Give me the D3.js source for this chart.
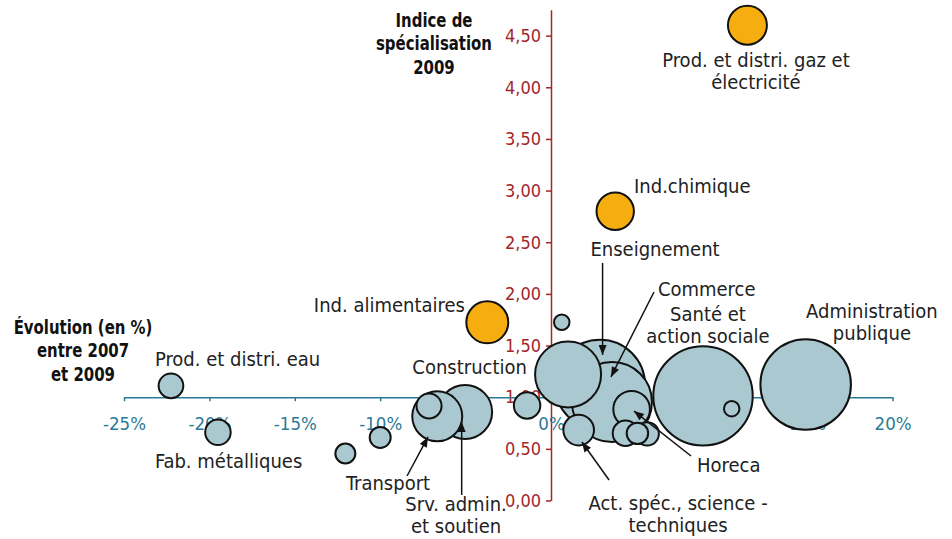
<!DOCTYPE html>
<html>
<head>
<meta charset="utf-8">
<script src="https://cdn.jsdelivr.net/npm/d3@7"></script>
<style>
  body { margin: 0; background: #fff; }
  svg text { font-family: "DejaVu Sans Condensed", "DejaVu Sans", sans-serif; font-stretch: condensed; }
  .titre { font-weight: bold; font-size: 20px; fill: #111; }
  .lbl { font-size: 20px; fill: #222; }
</style>
</head>
<body>
<svg width="952" height="539"></svg>
<script>
// Données : évolution de l'emploi 2007-2009 (%), indice de spécialisation 2009, poids du secteur
var secteurs = ["Prod. et distri. gaz et électricité", "Ind.chimique", "Ind. alimentaires", "",
  "Prod. et distri. eau", "Fab. métalliques", "", "", "Transport", "", "Srv. admin. et soutien",
  "Construction", "", "Enseignement", "Commerce", "Santé et action sociale", "",
  "Administration publique", "Act. spéc., science - techniques", "Horeca", "", "", ""];
var evolution = [11.5, 3.76, -3.73, 0.63, -22.25, -19.5, -12.04, -10.0, -6.66, -7.14, -5.03,
  -1.4, 1.0, 2.87, 3.57, 8.9, 10.58, 14.91, 1.62, 4.72, 4.36, 5.06, 5.63];
var indice = [4.60, 2.80, 1.725, 1.725, 1.11, 0.66, 0.455, 0.61, 0.815, 0.915, 0.857,
  0.92, 1.22, 1.12, 0.953, 1.013, 0.889, 1.123, 0.682, 0.884, 0.651, 0.65, 0.645];
var poids = [15.2, 14.0, 17.6, 2.4, 6.1, 6.5, 4.0, 4.4, 25, 6.25, 29.2,
  7.0, 43.6, 81, 64, 98.8, 2.4, 82, 9.4, 13.4, 6.5, 4.6, 5.5];
var phare = [1, 1, 1, 0, 0, 0, 0, 0, 0, 0, 0, 0, 0, 0, 0, 0, 0, 0, 0, 0, 0, 0, 0];

var xTicks = [-25, -20, -15, -10, -5, 0, 5, 10, 15, 20];
var yTicks = [0, 0.5, 1, 1.5, 2, 2.5, 3, 3.5, 4, 4.5];

// étiquettes (position en unités du graphique)
var annotations = [
  {lines: ["Prod. et distri. gaz et", "électricité"], x: 12.0, y: 4.196, anchor: "middle"},
  {lines: ["Ind.chimique"], x: 4.86, y: 2.977, anchor: "start"},
  {lines: ["Ind. alimentaires"], x: -5.04, y: 1.825, anchor: "end"},
  {lines: ["Prod. et distri. eau"], x: -23.19, y: 1.302, anchor: "start"},
  {lines: ["Fab. métalliques"], x: -23.19, y: 0.315, anchor: "start"},
  {lines: ["Transport"], x: -9.54, y: 0.102, anchor: "middle", arrow: [-8.43, 0.237, -7.20, 0.615]},
  {lines: ["Srv. admin.", "et soutien"], x: -5.56, y: -0.102, anchor: "middle", arrow: [-5.23, 0.053, -5.23, 0.76]},
  {lines: ["Construction"], x: -1.41, y: 1.225, anchor: "end"},
  {lines: ["Enseignement"], x: 6.09, y: 2.367, anchor: "middle", arrow: [3.02, 2.299, 3.02, 1.409]},
  {lines: ["Commerce"], x: 6.26, y: 1.98, anchor: "start", arrow: [6.03, 2.018, 3.51, 1.196]},
  {lines: ["Santé et", "action sociale"], x: 9.19, y: 1.74, anchor: "middle"},
  {lines: ["Administration", "publique"], x: 18.79, y: 1.767, anchor: "middle"},
  {lines: ["Horeca"], x: 8.55, y: 0.276, anchor: "start", arrow: [8.20, 0.431, 4.86, 0.866]},
  {lines: ["Act. spéc., science -", "techniques"], x: 7.44, y: -0.092, anchor: "middle", arrow: [3.40, 0.198, 1.81, 0.566]}
];

var svg = d3.select("svg");

var x = d3.scaleLinear().domain([-25, 20]).range([124, 892.6]);
var y = d3.scaleLinear().domain([0, 4.75]).range([500.5, 9.8]);
var r = d3.scaleSqrt().domain([0, 100]).range([0, 50]);

var rouge = "#a3262b", bleu = "#2b7a95";

// axe vertical
var yAxis = svg.append("g")
    .attr("transform", "translate(" + x(0) + ",0)")
    .call(d3.axisLeft(y).tickValues(yTicks).tickSize(5).tickSizeOuter(0).tickPadding(5)
      .tickFormat(function(d) { return d3.format(".2f")(d).replace(".", ","); }));
yAxis.select(".domain").attr("stroke", rouge).attr("stroke-width", 1.5);
yAxis.selectAll(".tick line").attr("stroke", rouge).attr("stroke-width", 1.5);
yAxis.selectAll("text").attr("fill", rouge).style("font-size", "18px");

// axe horizontal (croise à 1,00)
var xAxis = svg.append("g")
    .attr("transform", "translate(0," + y(1) + ")")
    .call(d3.axisBottom(x).tickValues(xTicks).tickSize(4).tickSizeOuter(0).tickPadding(16)
      .tickFormat(function(d) { return d + "%"; }));
xAxis.select(".domain").attr("stroke", bleu).attr("stroke-width", 1.5);
xAxis.selectAll(".tick line").attr("stroke", bleu).attr("stroke-width", 1.5);
xAxis.selectAll("text").attr("fill", bleu).style("font-size", "18.5px");

// bulles
var data = secteurs.map(function(s, i) {
  return {nom: s, evol: evolution[i], ind: indice[i], poids: poids[i], phare: phare[i]};
});
data.sort(function(a, b) { return b.poids - a.poids; });

svg.append("g").selectAll("circle")
  .data(data)
  .enter()
  .append("circle")
    .attr("cx", function(d) { return x(d.evol); })
    .attr("cy", function(d) { return y(d.ind); })
    .attr("r", function(d) { return r(d.poids); })
    .style("fill", function(d) { return d.phare ? "#f5ad10" : "#aac8d0"; })
    .style("stroke", "#111")
    .style("stroke-width", 2);

// flèches
svg.append("defs").append("marker")
    .attr("id", "fleche")
    .attr("markerUnits", "userSpaceOnUse")
    .attr("viewBox", "0 0 10 8")
    .attr("refX", 10).attr("refY", 4)
    .attr("markerWidth", 11).attr("markerHeight", 8)
    .attr("orient", "auto")
  .append("path")
    .attr("d", "M0,0L10,4L0,8Z")
    .attr("fill", "#111");

var ann = svg.append("g");
annotations.filter(function(a) { return a.arrow; }).forEach(function(a) {
  ann.append("line")
    .attr("x1", x(a.arrow[0])).attr("y1", y(a.arrow[1]))
    .attr("x2", x(a.arrow[2])).attr("y2", y(a.arrow[3]))
    .attr("stroke", "#111").attr("stroke-width", 1.5)
    .attr("marker-end", "url(#fleche)");
});

annotations.forEach(function(a) {
  var t = ann.append("text")
    .attr("class", "lbl")
    .attr("text-anchor", a.anchor);
  a.lines.forEach(function(l, k) {
    t.append("tspan").attr("x", x(a.x)).attr("y", y(a.y) + k * 22).text(l);
  });
});

// titres des axes (police étroite simulée par un étirement horizontal)
function titre(lines, cx, top) {
  var sx = 0.83;
  var t = svg.append("text").attr("class", "titre").attr("text-anchor", "middle")
    .attr("transform", "scale(" + sx + ",1)");
  lines.forEach(function(l, k) {
    t.append("tspan").attr("x", cx / sx).attr("y", top + k * 23.5).text(l);
  });
}
titre(["Indice de", "spécialisation", "2009"], 434, 27);
titre(["Évolution (en %)", "entre 2007", "et 2009"], 83, 334);
</script>
</body>
</html>
